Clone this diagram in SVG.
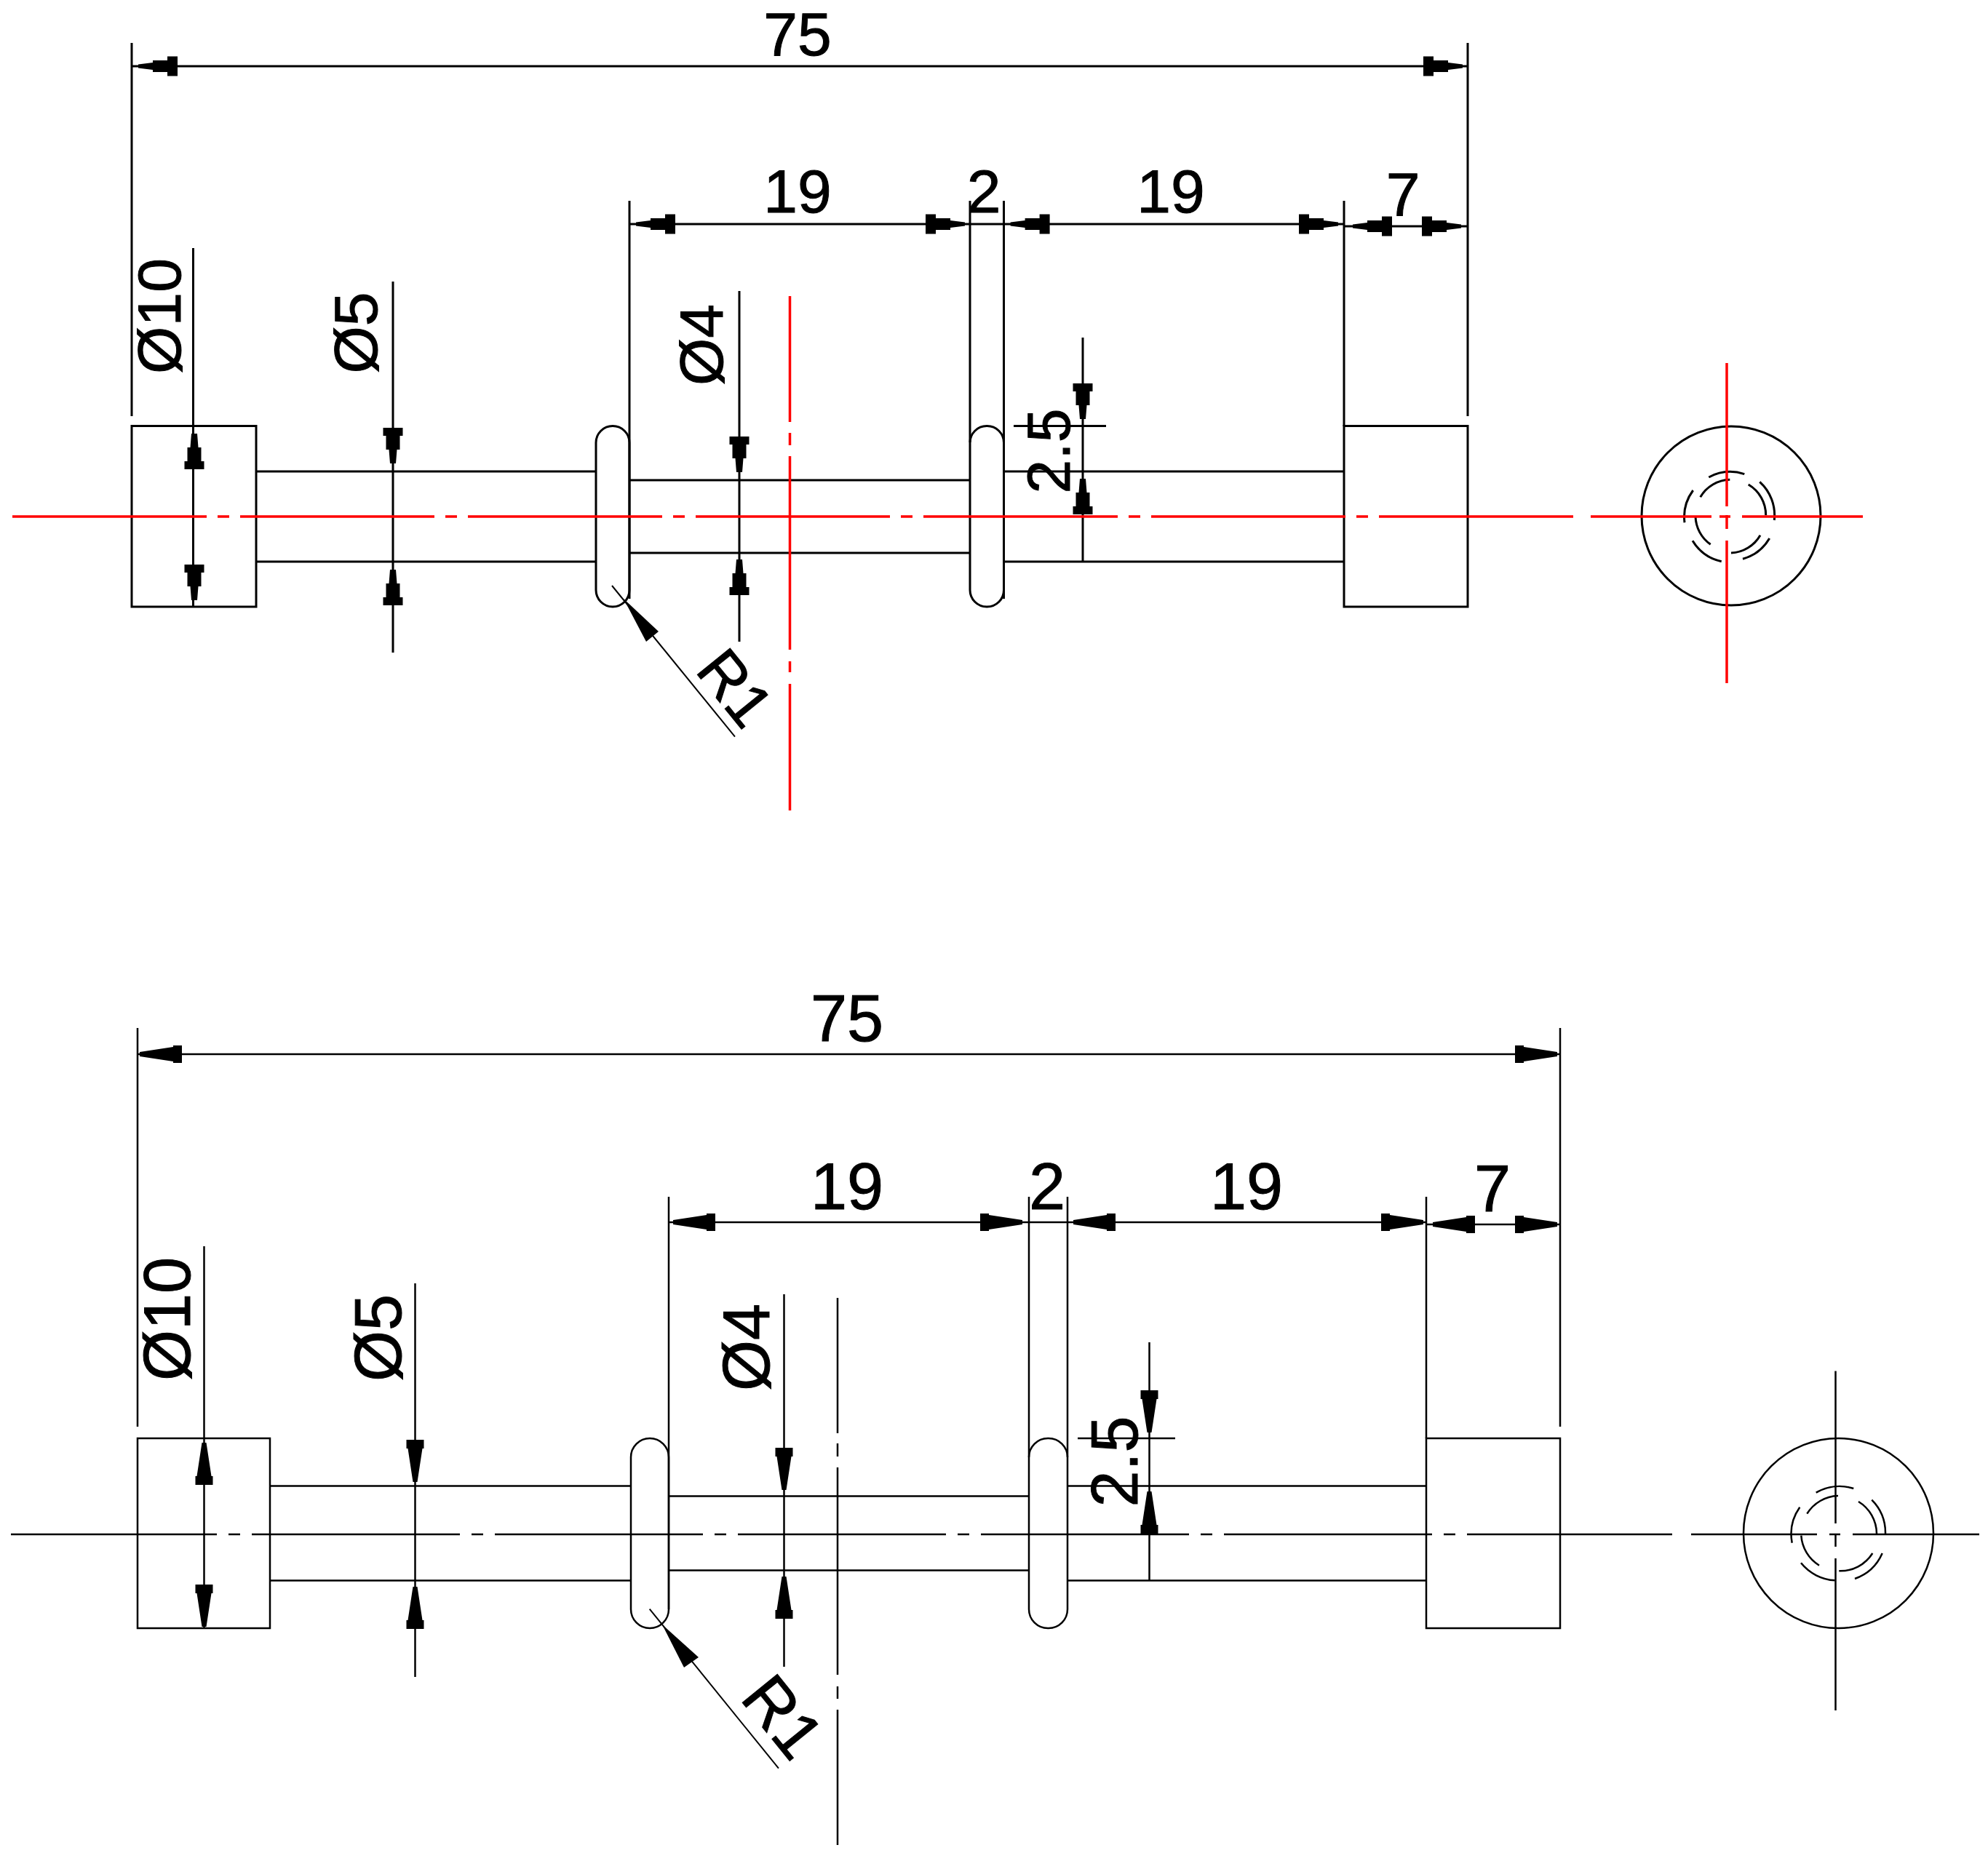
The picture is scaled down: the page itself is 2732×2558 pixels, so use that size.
<svg xmlns="http://www.w3.org/2000/svg" xmlns:xlink="http://www.w3.org/1999/xlink" width="2732" height="2558" viewBox="0 0 2732 2558">
<style>
line,path,rect,circle{fill:none;stroke-linecap:butt}
.a line,.a path,.a rect,.a circle{stroke:#000;stroke-width:3}
.c line,.c path,.c rect,.c circle{stroke:#000;stroke-width:2.5}
.a line.r{stroke:#f00;stroke-width:3.5}
.a line.rv{stroke:#f00;stroke-width:3.5}
.l{stroke-width:2!important}
text{font-family:"Liberation Sans",Arial,sans-serif;fill:#000;stroke:#000;stroke-width:1;text-anchor:middle}
.a text{font-size:84px}
.c text{font-size:90px}
.h{fill:#000;stroke:none}
</style>
<defs>
<polygon id="ah" class="h" points="0,-2.5 -20,-5 -20,-8 -40,-8 -40,-13.5 -54,-13.5 -54,13.5 -40,13.5 -40,8 -20,8 -20,5 0,2.5"/>
<polygon id="av" class="h" points="0,-4 -19,-5.5 -19,-9.5 -38,-9.5 -38,-13.5 -49,-13.5 -49,13.5 -38,13.5 -38,9.5 -19,9.5 -19,5.5 0,4"/>
<polygon id="ab" class="h" points="0,-3 -46,-10 -46,-12 -58,-12 -58,12 -46,12 -46,10 0,3"/>
</defs>
<rect width="2732" height="2558" fill="#fff" stroke="none"/>

<g id="view-top" class="a">
<g id="top-part">
<rect x="181" y="585.5" width="171" height="248.5"/>
<rect x="1847" y="585.5" width="170" height="248.5"/>
<rect x="819" y="585.5" width="46" height="248.5" rx="23" ry="23"/>
<rect x="1333" y="585.5" width="46.5" height="248.5" rx="23" ry="23"/>
<line x1="352" y1="648" x2="819" y2="648"/><line x1="352" y1="772" x2="819" y2="772"/>
<line x1="865" y1="660" x2="1333" y2="660"/><line x1="865" y1="760" x2="1333" y2="760"/>
<line x1="1380" y1="648" x2="1847" y2="648"/><line x1="1380" y1="772" x2="1847" y2="772"/>
</g>
<g id="top-end-view">
<circle cx="2379" cy="709" r="123"/>
<path d="M2348.3 656A62 62 0 0 1 2397.3 651.7M2326.7 674A62 62 0 0 0 2315 718.3M2326 743.3A62 62 0 0 0 2365.7 771.7M2395 768.3A62 62 0 0 0 2431.7 740M2438.3 715A62 62 0 0 0 2418.3 662.3"/>
<path d="M2336.7 683.3A48.5 48.5 0 0 1 2377.3 659.3M2330 710A48.5 48.5 0 0 0 2350.7 748.3M2379 760A48.5 48.5 0 0 0 2419 735.7M2426.7 708.3A48.5 48.5 0 0 0 2402.7 666"/>
</g>
<g id="top-connectors">
<line x1="181" y1="59" x2="181" y2="572"/><line x1="2017" y1="59" x2="2017" y2="572"/>
<line x1="181" y1="91" x2="2017" y2="91"/>
<line x1="865" y1="276" x2="865" y2="823"/><line x1="1333" y1="276" x2="1333" y2="608"/><line x1="1379.5" y1="276" x2="1379.5" y2="823"/><line x1="1847" y1="276" x2="1847" y2="586"/>
<line x1="865" y1="308" x2="1847" y2="308"/><line x1="1847" y1="311" x2="2017" y2="311"/>
<line x1="265.5" y1="341" x2="265.5" y2="833"/>
<line x1="540" y1="387" x2="540" y2="897"/>
<line x1="1016" y1="400" x2="1016" y2="882"/>
<line x1="1488" y1="464" x2="1488" y2="771"/><line x1="1393" y1="585.5" x2="1520" y2="585.5"/>
<line class="l" x1="841" y1="805" x2="1010" y2="1012.7"/>
<polygon class="h" points="857,823 905,868 888,882"/>
<use href="#ah" transform="translate(190,91) rotate(180)"/><use href="#ah" transform="translate(2010,91)"/>
<use href="#ah" transform="translate(874,308) rotate(180)"/><use href="#ah" transform="translate(1326,308)"/>
<use href="#ah" transform="translate(1388.6,308) rotate(180)"/><use href="#ah" transform="translate(1839,308)"/>
<use href="#ah" transform="translate(1859,311) rotate(180)"/><use href="#ah" transform="translate(2008,311)"/>
<use href="#av" transform="translate(267,596) rotate(-90)"/><use href="#av" transform="translate(267,825) rotate(90)"/>
<use href="#av" transform="translate(540,637) rotate(90)"/><use href="#av" transform="translate(540,783) rotate(-90)"/>
<use href="#av" transform="translate(1016,649) rotate(90)"/><use href="#av" transform="translate(1016,769) rotate(-90)"/>
<use href="#av" transform="translate(1488,576) rotate(90)"/><use href="#av" transform="translate(1488,658) rotate(-90)"/>
</g>
<g id="top-centerlines">
<line class="r" x1="17" y1="710" x2="2163" y2="710" stroke-dasharray="267 15 16 15"/>
<line class="r" x1="2186" y1="710" x2="2352" y2="710"/><line class="r" x1="2363" y1="710" x2="2378" y2="710"/><line class="r" x1="2394" y1="710" x2="2560" y2="710"/>
<line class="rv" x1="1085.5" y1="407" x2="1085.5" y2="580"/><line class="rv" x1="1085.5" y1="595" x2="1085.5" y2="612"/><line class="rv" x1="1085.5" y1="627" x2="1085.5" y2="893"/><line class="rv" x1="1085.5" y1="909" x2="1085.5" y2="924"/><line class="rv" x1="1085.5" y1="940" x2="1085.5" y2="1114"/>
<line class="rv" x1="2373" y1="499" x2="2373" y2="696"/><line class="rv" x1="2373" y1="708" x2="2373" y2="727"/><line class="rv" x1="2373" y1="743" x2="2373" y2="939"/>
</g>
<g id="top-labels">
<text x="1096" y="75.5">75</text>
<text x="1096" y="292">19</text>
<text x="1352" y="292">2</text>
<text x="1609" y="292">19</text>
<text x="1928" y="296">7</text>
<text transform="translate(248,434.5) rotate(-90)">Ø10</text>
<text transform="translate(518,457.5) rotate(-90)">Ø5</text>
<text transform="translate(993,474) rotate(-90)">Ø4</text>
<text transform="translate(1470,620) rotate(-90)">2.5</text>
<text transform="translate(954,922) rotate(51)" style="text-anchor:start">R1</text>
</g>
</g>

<g id="view-bottom" class="c">
<g id="bottom-part">
<rect x="189" y="1977" width="182" height="261"/>
<rect x="1960" y="1977" width="184" height="261"/>
<rect x="867" y="1977" width="52" height="261" rx="26" ry="26"/>
<rect x="1414" y="1977" width="53" height="261" rx="26" ry="26"/>
<line x1="371" y1="2042.5" x2="867" y2="2042.5"/><line x1="371" y1="2172.5" x2="867" y2="2172.5"/>
<line x1="919" y1="2056.5" x2="1414" y2="2056.5"/><line x1="919" y1="2158.5" x2="1414" y2="2158.5"/>
<line x1="1467" y1="2042.5" x2="1960" y2="2042.5"/><line x1="1467" y1="2172.5" x2="1960" y2="2172.5"/>
</g>
<g id="bottom-end-view">
<circle cx="2526.5" cy="2107.5" r="130.5"/>
<path d="M2495.7 2051.7A64.5 64.5 0 0 1 2547.3 2046M2473.3 2071.7A64.5 64.5 0 0 0 2462.7 2120.7M2475 2148.3A64.5 64.5 0 0 0 2521.7 2172.3M2549 2170A64.5 64.5 0 0 0 2586.7 2135M2591 2108.3A64.5 64.5 0 0 0 2572.3 2061.7"/>
<path d="M2483.3 2080.7A52 52 0 0 1 2526 2056M2475.3 2110.7A52 52 0 0 0 2500 2151.7M2527.3 2159.3A52 52 0 0 0 2573.3 2135M2579 2108.3A52 52 0 0 0 2554 2064"/>
</g>
<g id="bottom-centerlines">
<line x1="15" y1="2109" x2="2298" y2="2109" stroke-dasharray="283 16 16 16 286 16 16 16 286 16 16 16 286 16 16 16 286 16 16 16 286 16 16 16 286"/>
<line x1="2324" y1="2109" x2="2497" y2="2109"/><line x1="2514" y1="2109" x2="2529" y2="2109"/><line x1="2546" y1="2109" x2="2720" y2="2109"/>
<line x1="1151" y1="1784" x2="1151" y2="1970"/><line x1="1151" y1="1984" x2="1151" y2="2002"/><line x1="1151" y1="2017" x2="1151" y2="2302"/><line x1="1151" y1="2318" x2="1151" y2="2335"/><line x1="1151" y1="2350" x2="1151" y2="2536"/>
<line x1="2522.5" y1="1884.5" x2="2522.5" y2="2094"/><line x1="2522.5" y1="2109" x2="2522.5" y2="2126"/><line x1="2522.5" y1="2142" x2="2522.5" y2="2351"/>
</g>
<g id="bottom-connectors">
<line x1="189" y1="1413" x2="189" y2="1961"/><line x1="2144" y1="1413" x2="2144" y2="1961"/>
<line x1="189" y1="1449" x2="2144" y2="1449"/>
<line x1="919" y1="1645" x2="919" y2="2212"/><line x1="1414" y1="1645" x2="1414" y2="2003"/><line x1="1467" y1="1645" x2="1467" y2="2003"/><line x1="1960" y1="1645" x2="1960" y2="1977"/>
<line x1="919" y1="1680" x2="1960" y2="1680"/><line x1="1960" y1="1683" x2="2144" y2="1683"/>
<line x1="280.5" y1="1713" x2="280.5" y2="2238"/>
<line x1="570.5" y1="1764" x2="570.5" y2="2305"/>
<line x1="1077.5" y1="1779" x2="1077.5" y2="2291"/>
<line x1="1579.5" y1="1845" x2="1579.5" y2="2172.5"/><line x1="1481" y1="1977" x2="1615" y2="1977"/>
<line class="l" x1="892.7" y1="2211.7" x2="1070" y2="2430.7"/>
<polygon class="h" points="910,2233 960,2278 940,2292"/>
<use href="#ab" transform="translate(192,1449) rotate(180)"/><use href="#ab" transform="translate(2140,1449)"/>
<use href="#ab" transform="translate(925,1680) rotate(180)"/><use href="#ab" transform="translate(1405,1680)"/>
<use href="#ab" transform="translate(1475,1680) rotate(180)"/><use href="#ab" transform="translate(1956,1680)"/>
<use href="#ab" transform="translate(1969,1683) rotate(180)"/><use href="#ab" transform="translate(2140,1683)"/>
<use href="#ab" transform="translate(280.5,1983) rotate(-90)"/><use href="#ab" transform="translate(280.5,2236) rotate(90)"/>
<use href="#ab" transform="translate(570.5,2037) rotate(90)"/><use href="#ab" transform="translate(570.5,2181) rotate(-90)"/>
<use href="#ab" transform="translate(1077.5,2048) rotate(90)"/><use href="#ab" transform="translate(1077.5,2167) rotate(-90)"/>
<use href="#ab" transform="translate(1579.5,1969) rotate(90)"/><use href="#ab" transform="translate(1579.5,2050) rotate(-90)"/>
</g>
<g id="bottom-labels">
<text x="1164" y="1430.5">75</text>
<text x="1164" y="1662">19</text>
<text x="1439" y="1662">2</text>
<text x="1713" y="1662">19</text>
<text x="2051" y="1665">7</text>
<text transform="translate(261,1813) rotate(-90)">Ø10</text>
<text transform="translate(550.5,1839) rotate(-90)">Ø5</text>
<text transform="translate(1056.5,1852) rotate(-90)">Ø4</text>
<text transform="translate(1563,2009) rotate(-90)">2.5</text>
<text transform="translate(1015.5,2334.5) rotate(51)" style="text-anchor:start">R1</text>
</g>
</g>
</svg>
